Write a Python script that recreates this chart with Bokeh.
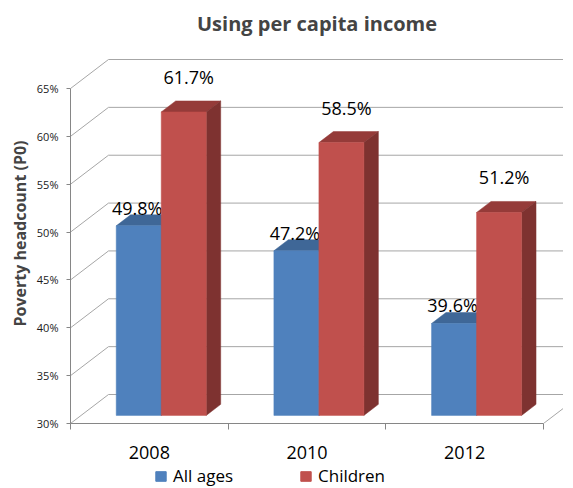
from bokeh.plotting import figure
from bokeh.layouts import column
from bokeh.models import (FixedTicker, Range1d, Legend, LegendItem,
                          PrintfTickFormatter)
from bokeh.core.properties import value
from bokeh.embed import file_html
from bokeh.resources import INLINE

# ---------------- data ----------------
years = ["2008", "2010", "2012"]
all_ages = [49.8, 47.2, 39.6]
children = [61.7, 58.5, 51.2]
series_names = ["All ages", "Children"]
y_ticks = [30, 35, 40, 45, 50, 55, 60, 65]
y_min, y_max = 30, 65

# ---------------- style / geometry ----------------
FONT = "Open Sans"
PX_X = 157.67          # pixels per category
PX_Y = 9.571           # pixels per percent point
FRAME_W, FRAME_H = 493, 380
DX = 38 / PX_X         # depth vector of the walls, in data units
DY = 29 / PX_Y
Z0 = 0.28              # bar front plane depth fraction
ZD = 0.38              # bar depth fraction
BAR_LEFT = 0.2225
BAR_W = 0.2855
GRID = "#a6a6a6"
AXIS = "#868686"
FRONT = ["#4f81bd", "#c0504d"]
TOP = ["#3f6797", "#953b39"]
SIDE = ["#35577f", "#7e3230"]
LBL_DX = [-1.5, 5]
LBL_DY = [-18, -35]

n = len(years)
x_end = FRAME_W / PX_X

p = figure(frame_width=FRAME_W, frame_height=FRAME_H, output_backend="svg", toolbar_location=None,
           x_range=Range1d(0, x_end), y_range=Range1d(y_min, y_min + FRAME_H / PX_Y),
           min_border_left=70, min_border_right=0, min_border_top=40, min_border_bottom=41)
p.outline_line_color = None
p.grid.visible = False
p.background_fill_color = "white"

# ---------------- walls / gridlines ----------------
gx, gy = [], []
for v in y_ticks:
    gx.append([0, DX, x_end + 1])
    gy.append([v, v + DY, v + DY])
gx.append([n, n + DX])
gy.append([y_min, y_min + DY])
p.multi_line(gx, gy, line_color=GRID, line_width=1)

# ---------------- bars ----------------
for s, vals in enumerate([all_ages, children]):
    fx0, fx1, fb, ft = [], [], [], []
    txs, tys, sxs, sys_ = [], [], [], []
    lx, ly, lt = [], [], []
    for i, v in enumerate(vals):
        x0 = i + BAR_LEFT + s * BAR_W + Z0 * DX
        x1 = x0 + BAR_W
        yb = y_min + Z0 * DY
        yt = v + Z0 * DY
        ddx, ddy = ZD * DX, ZD * DY
        fx0.append(x0); fx1.append(x1); fb.append(yb); ft.append(yt)
        txs.append([x0, x1, x1 + ddx, x0 + ddx])
        tys.append([yt, yt, yt + ddy, yt + ddy])
        sxs.append([x1, x1 + ddx, x1 + ddx, x1])
        sys_.append([yb, yb + ddy, yt + ddy, yt])
        lx.append(x0 + BAR_W / 2); ly.append(yt); lt.append(f"{v:.1f}%")
    p.patches(txs, tys, fill_color=TOP[s], line_color=TOP[s], line_width=0.5)
    p.patches(sxs, sys_, fill_color=SIDE[s], line_color=SIDE[s], line_width=0.5)
    p.quad(left=fx0, right=fx1, bottom=fb, top=ft, fill_color=FRONT[s],
           line_color=FRONT[s], line_width=0.5)
    p.text(x=lx, y=ly, text=lt, x_offset=LBL_DX[s], y_offset=LBL_DY[s],
           text_align="center", text_baseline="middle",
           text_font=value(FONT), text_font_size="18px", text_color="black")

# ---------------- axes ----------------
ya = p.yaxis[0]
ya.ticker = FixedTicker(ticks=y_ticks)
ya.bounds = (y_min, y_max)
ya.formatter = PrintfTickFormatter(format="%d%%")
ya.axis_label = "Poverty headcount (P0)"
ya.axis_label_text_font = FONT
ya.axis_label_text_font_style = "bold"
ya.axis_label_text_font_size = "16px"
ya.axis_label_standoff = 3
ya.major_label_text_font = FONT
ya.major_label_text_font_size = "11px"
ya.major_label_text_color = "#1a1a1a"
ya.major_label_standoff = 8
ya.axis_line_color = AXIS
ya.major_tick_line_color = AXIS
ya.major_tick_out = 4
ya.major_tick_in = 0
ya.minor_tick_line_color = None

xa = p.xaxis[0]
xa.ticker = FixedTicker(ticks=[i + 0.5 for i in range(n)], minor_ticks=list(range(n + 1)))
xa.major_label_overrides = {i + 0.5: y for i, y in enumerate(years)}
xa.bounds = (0, n)
xa.axis_line_color = AXIS
xa.major_tick_line_color = None
xa.major_tick_out = 0
xa.major_tick_in = 0
xa.minor_tick_line_color = AXIS
xa.minor_tick_out = 6
xa.minor_tick_in = 0
xa.major_label_text_font = FONT
xa.major_label_text_font_size = "18px"
xa.major_label_text_color = "black"
xa.major_label_standoff = 16

# ---------------- title ----------------
p.title.text = "Using per capita income"
p.title.align = "center"
p.title.text_font = FONT
p.title.text_font_style = "bold"
p.title.text_font_size = "20px"
p.title.standoff = 14

# ---------------- legend (separate strip below) ----------------
leg = figure(width=563, height=23, output_backend="svg", toolbar_location=None,
             x_range=Range1d(0, 1), y_range=Range1d(0, 1),
             x_axis_location=None, y_axis_location=None,
             min_border=0, outline_line_color=None)
leg.grid.visible = False
# proxy glyphs (kept outside the visible range) that only feed the legend swatches
leg_r = [leg.quad(left=[-3], right=[-2], bottom=[-3], top=[-2], fill_color=FRONT[k],
                  line_color=FRONT[k]) for k in range(2)]
legend = Legend(items=[LegendItem(label=series_names[k], renderers=[leg_r[k]]) for k in range(2)],
                orientation="horizontal", location=(84, 0), padding=0, margin=0,
                spacing=6, label_standoff=6, glyph_width=13, glyph_height=12,
                label_width=120, label_height=18,
                label_text_font=FONT, label_text_font_size="17px", label_text_color="black",
                border_line_color=None, background_fill_alpha=0)
leg.add_layout(legend)

layout = column(p, leg, spacing=0)
open("out.html", "w").write(file_html(layout, INLINE))
